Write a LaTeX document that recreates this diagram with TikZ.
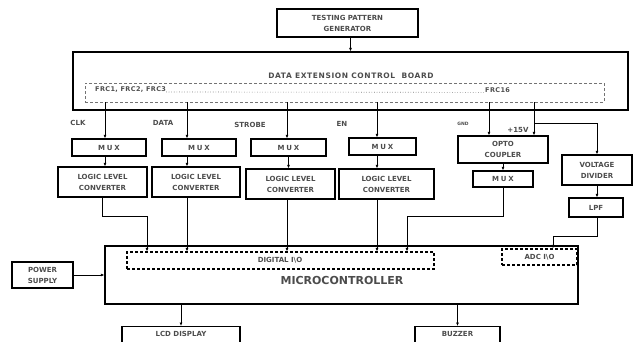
\documentclass[tikz,border=0pt]{standalone}
\usepackage{fontspec}
\setmainfont{DejaVu Sans}
\usepackage{tikz}
\usetikzlibrary{arrows.meta, positioning, calc}

\newcommand{\blkfont}{\fontsize{7}{11}\selectfont\bfseries}
\newcommand{\muxfont}{\fontsize{7}{11}\selectfont\bfseries\addfontfeature{LetterSpace=25}}
\newcommand{\brdfont}{\fontsize{7.5}{11}\selectfont\bfseries\addfontfeature{LetterSpace=8}}
\newcommand{\frcfont}{\fontsize{6.5}{8}\selectfont\bfseries\addfontfeature{LetterSpace=6}}
\newcommand{\mcufont}{\fontsize{11}{12}\selectfont\bfseries}

\begin{document}
\begin{tikzpicture}[x=1pt, y=-1pt,
  blk/.style={draw, line width=1.3pt, inner sep=1pt, align=center, text=black!70, font=\blkfont},
  dbox/.style={draw, dashed, dash pattern=on 3pt off 2pt, line width=1.2pt, inner sep=0pt},
  txt/.style={inner sep=0pt, text=black!70, font=\blkfont},
  arr/.style={-{Latex[length=3.5pt,width=3pt]}, line width=1pt},
  wire/.style={line width=1pt}]
\useasboundingbox (0,0) rectangle (633,341);

% Pattern source and board
\node[blk, minimum width=141pt, minimum height=28pt] (tpg) at (347.5,23) {TESTING PATTERN\\GENERATOR};
\node[blk, minimum width=555pt, minimum height=58pt] (board) at (350.5,81) {};
\node[txt, font=\brdfont] (boardlbl) at (351,76) {DATA EXTENSION CONTROL\ \ BOARD};
\node[dbox, draw=black!55, line width=0.9pt, minimum width=519pt, minimum height=19pt] (frc) at (344.5,92.5) {};
\node[txt, font=\frcfont, anchor=west] (frcA) at (95,90) {FRC1, FRC2, FRC3};
\node[txt, font=\frcfont, anchor=west] (frcB) at (485,90) {FRC16};
\draw[dotted, black!60, line width=0.6pt] (frcA.base east) -- (frcB.base west);
\draw[arr] (tpg.south -| board.north) -- (board.north);

% Channel lines
\coordinate (chClk) at (105,0);
\coordinate (chData) at (187,0);
\coordinate (chStrobe) at (287,0);
\coordinate (chEn) at (377,0);
\coordinate (chGnd) at (489,0);
\coordinate (chVcc) at (534,0);

\node[txt] (lclk) at (78,123) {CLK};
\node[txt] (ldata) at (163,123) {DATA};
\node[txt] (lstrobe) at (250,125) {STROBE};
\node[txt] (len) at (342,124) {EN};
\node[txt, font=\fontsize{4.5}{5}\selectfont\bfseries] (lgnd) at (463,124) {GND};
\node[txt] (lvcc) at (518,130) {+15V};

% Mux and converter row
\node[blk, font=\muxfont, minimum width=74pt, minimum height=17pt] (mux1) at (109,147.5) {MUX};
\node[blk, font=\muxfont, minimum width=74pt, minimum height=17pt] (mux2) at (199,147.5) {MUX};
\node[blk, font=\muxfont, minimum width=75pt, minimum height=17pt] (mux3) at (288.5,147.5) {MUX};
\node[blk, font=\muxfont, minimum width=67pt, minimum height=17pt] (mux4) at (382.5,146.5) {MUX};
\node[blk, minimum width=89pt, minimum height=30pt] (llc1) at (102.5,182) {LOGIC LEVEL\\CONVERTER};
\node[blk, minimum width=88pt, minimum height=30pt] (llc2) at (196,182) {LOGIC LEVEL\\CONVERTER};
\node[blk, minimum width=89pt, minimum height=30pt] (llc3) at (290.5,184) {LOGIC LEVEL\\CONVERTER};
\node[blk, minimum width=95pt, minimum height=30pt] (llc4) at (386.5,184) {LOGIC LEVEL\\CONVERTER};
\node[blk, minimum width=90pt, minimum height=27pt] (opto) at (503,149.5) {OPTO\\COUPLER};
\node[blk, font=\muxfont, minimum width=60pt, minimum height=16pt] (mux5) at (503,179) {MUX};
\node[blk, minimum width=70pt, minimum height=30pt] (vdiv) at (597,170) {VOLTAGE\\DIVIDER};
\node[blk, minimum width=54pt, minimum height=19pt] (lpf) at (596,207.5) {LPF};

\draw[arr] (frc.south -| chClk) -- (mux1.north -| chClk);
\draw[arr] (frc.south -| chData) -- (mux2.north -| chData);
\draw[arr] (frc.south -| chStrobe) -- (mux3.north -| chStrobe);
\draw[arr] (frc.south -| chEn) -- (mux4.north -| chEn);
\draw[arr] (frc.south -| chGnd) -- (opto.north -| chGnd);
\draw[arr] (frc.south -| chVcc) -- (opto.north -| chVcc);
\coordinate (tap) at (534,123);
\draw[arr] (tap) -| (vdiv.north);

\draw[arr] (mux1.south -| chClk) -- (llc1.north -| chClk);
\draw[arr] (mux2.south -| chData) -- (llc2.north -| chData);
\draw[arr] (mux3.south) -- (llc3.north -| mux3.south);
\draw[arr] (mux4.south -| chEn) -- (llc4.north -| chEn);
\draw[arr] (opto.south) -- (mux5.north);
\draw[arr] (vdiv.south) -- (lpf.north -| vdiv.south);

% Microcontroller
\node[blk, minimum width=473pt, minimum height=58pt] (mcu) at (341.5,275) {};
\node[dbox, minimum width=307pt, minimum height=17pt] (dio) at (280.5,260.5) {};
\node[txt] (diolbl) at (280,260) {DIGITAL I\textbackslash O};
\node[dbox, minimum width=75pt, minimum height=16pt] (adc) at (539.5,257) {};
\node[txt] (adclbl) at (539.5,257) {ADC I\textbackslash O};
\node[txt, font=\mcufont] (mculbl) at (342,280) {MICROCONTROLLER};

\coordinate (j1) at (147,216);
\coordinate (j2) at (407,216);
\coordinate (j3) at (553,236);
\draw[arr] (llc1.south) |- (j1) -- (j1 |- dio.north);
\draw[arr] (llc2.south -| chData) -- (dio.north -| chData);
\draw[arr] (llc3.south -| chStrobe) -- (dio.north -| chStrobe);
\draw[arr] (llc4.south -| chEn) -- (dio.north -| chEn);
\draw[arr] (mux5.south) |- (j2) -- (j2 |- dio.north);
\draw[arr] (lpf.south -| vdiv.south) |- (j3) -- (j3 |- adc.north);

% Peripherals
\node[blk, minimum width=61pt, minimum height=26pt] (pwr) at (42.5,275) {POWER\\SUPPLY};
\node[blk, anchor=north, minimum width=118pt, inner ysep=4pt, text height=6pt, text depth=12pt] (lcd) at (181,326) {LCD DISPLAY};
\node[blk, anchor=north, minimum width=85pt, inner ysep=4pt, text height=6pt, text depth=12pt] (buzz) at (457.5,326) {BUZZER};
\draw[arr] (pwr.east) -- (mcu.west);
\draw[arr] (mcu.south -| lcd.north) -- (lcd.north);
\draw[arr] (mcu.south -| buzz.north) -- (buzz.north);
\end{tikzpicture}
\end{document}
